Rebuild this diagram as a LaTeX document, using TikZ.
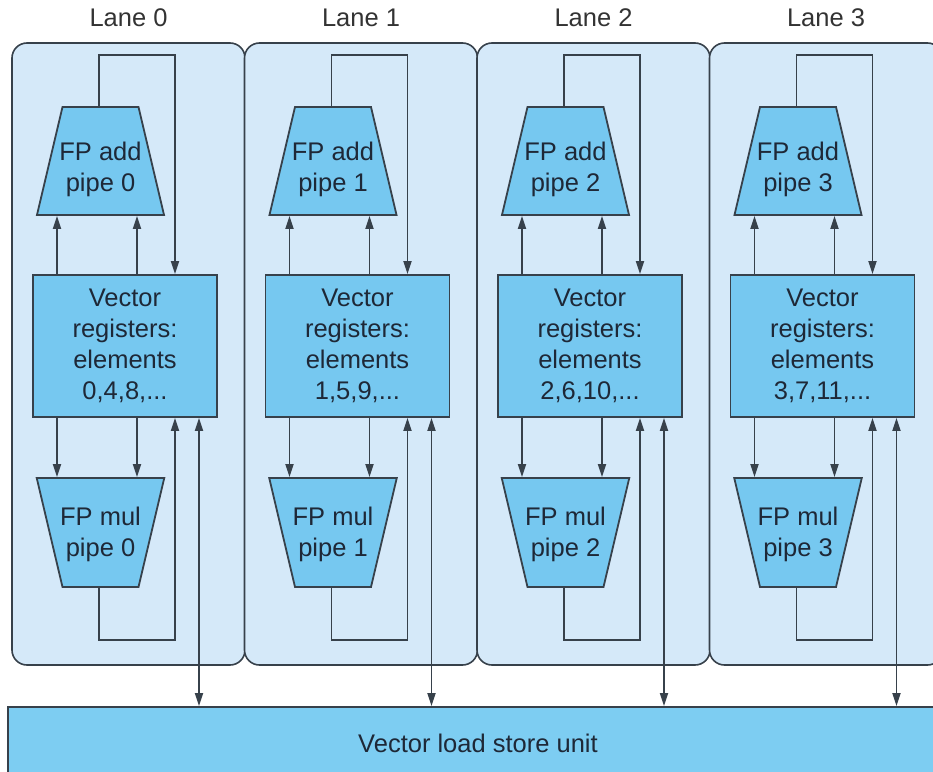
\documentclass[tikz,border=0pt]{standalone}
\usepackage{fontspec}
\setmainfont{Liberation Sans}
\usetikzlibrary{shapes.geometric, arrows.meta, positioning, calc}
\definecolor{LaneFill}{RGB}{213,233,249}
\definecolor{PipeBlue}{RGB}{118,200,240}
\definecolor{UnitBlue}{RGB}{125,205,242}
\definecolor{WireGray}{RGB}{55,65,75}
\definecolor{InkDark}{RGB}{30,40,55}

\begin{document}
\begin{tikzpicture}[
    x=1pt, y=-1pt,
    every node/.style={font=\fontsize{25.5}{31}\selectfont, align=center, text=InkDark},
    lane/.style={rectangle, draw=WireGray, fill=LaneFill, rounded corners=15pt, line width=1.6pt, minimum width=233pt, minimum height=622pt, inner sep=0pt},
    lanetitle/.style={text=black!80},
    regs/.style={rectangle, draw=WireGray, fill=PipeBlue, line width=1.8pt, minimum width=184pt, minimum height=142pt, inner sep=0pt},
    addpipe/.style={trapezium, trapezium left angle=76.7, trapezium right angle=76.7, draw=WireGray, fill=PipeBlue, line width=1.8pt, inner xsep=38pt, inner ysep=54pt},
    mulpipe/.style={addpipe, trapezium left angle=103.3, trapezium right angle=103.3, inner ysep=54.5pt},
    unit/.style={rectangle, draw=WireGray, fill=UnitBlue, line width=1.8pt, minimum width=940pt, minimum height=72pt, inner sep=0pt},
    arrow/.style={-{Triangle[length=13pt, width=8pt]}, draw=WireGray, line width=1.8pt},
    duplex/.style={{Triangle[length=13pt, width=8pt]}-{Triangle[length=13pt, width=8pt]}, draw=WireGray, line width=1.8pt}
  ]
    \useasboundingbox (0,0) rectangle (933,771);
    \clip (0,0) rectangle (933,771);

    % Lanes
    \foreach \i in {0,...,3}{
      \pgfmathsetmacro{\dx}{232.5*\i}
      \node[lane] (lane\i) at (128.5+\dx, 354) {};
      \node[lanetitle] (title\i) at (128.5+\dx, 18) {Lane \i};
    }

    % Load/store unit
    \node[unit] (lsu) at (478, 743) {Vector load store unit};

    % Pipes and registers
    \foreach \i/\elems in {0/{0,4,8,...}, 1/{1,5,9,...}, 2/{2,6,10,...}, 3/{3,7,11,...}}{
      \pgfmathsetmacro{\dx}{232.5*\i}
      \node[addpipe] (add\i) at (100.5+\dx, 161) {};
      \node (addtxt\i) at (100.5+\dx, 169) {FP add\\pipe \i};
      \node[regs] (regs\i) at (125+\dx, 346) {Vector\\registers:\\elements\\\elems};
      \node[mulpipe] (mul\i) at (100.5+\dx, 532.5) {};
      \node (multxt\i) at (100.5+\dx, 534) {FP mul\\pipe \i};

      \coordinate (pa\i) at (57+\dx, 0);
      \coordinate (pb\i) at (137+\dx, 0);
      \coordinate (out\i) at (99+\dx, 0);
      \coordinate (back\i) at (175+\dx, 0);
      \coordinate (mem\i) at (199+\dx, 0);

      % Connections
      \draw[arrow] (regs\i.north -| pa\i) -- (add\i.south -| pa\i);
      \draw[arrow] (regs\i.north -| pb\i) -- (add\i.south -| pb\i);
      \draw[arrow] (regs\i.south -| pa\i) -- (mul\i.north -| pa\i);
      \draw[arrow] (regs\i.south -| pb\i) -- (mul\i.north -| pb\i);
      \draw[arrow] (add\i.north -| out\i) -- ++(0,-51) -| (regs\i.north -| back\i);
      \draw[arrow] (mul\i.south -| out\i) -- ++(0,52) -| (regs\i.south -| back\i);
      \draw[duplex] (regs\i.south -| mem\i) -- (lsu.north -| mem\i);
    }
  \end{tikzpicture}
\end{document}
